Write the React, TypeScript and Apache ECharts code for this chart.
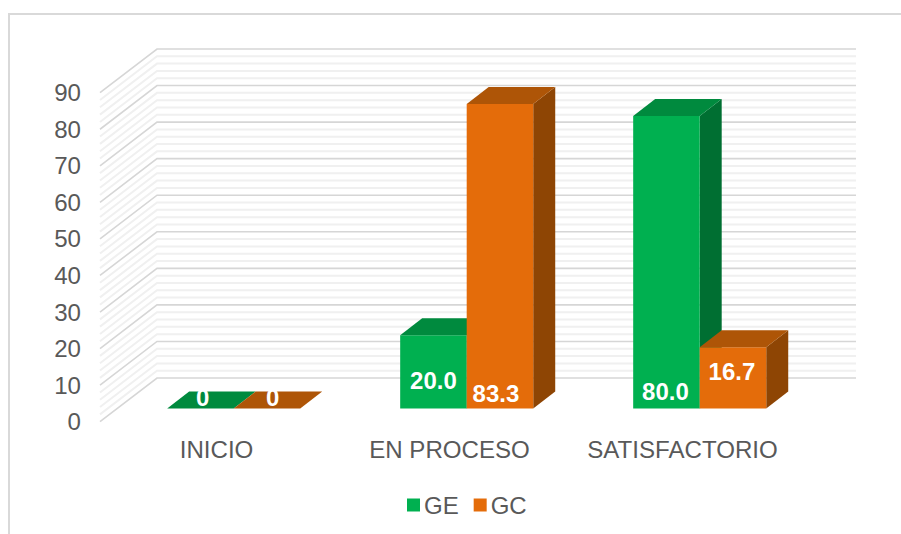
import React, { useEffect, useRef } from "react";
import * as echarts from "echarts";

const categories = ["INICIO", "EN PROCESO", "SATISFACTORIO"];
const geValues = [0, 20.0, 80.0];
const gcValues = [0, 83.3, 16.7];
const geLabels = ["0", "20.0", "80.0"];
const gcLabels = ["0", "83.3", "16.7"];
const yTicks = [0, 10, 20, 30, 40, 50, 60, 70, 80, 90];
const wallLevels = [
  0, 2, 4, 6, 8, 10, 12, 14, 16, 18, 20, 22, 24, 26, 28, 30, 32, 34, 36, 38, 40, 42, 44, 46,
  48, 50, 52, 54, 56, 58, 60, 62, 64, 66, 68, 70, 72, 74, 76, 78, 80, 82, 84, 86, 88, 90,
];

const FONT = '"Liberation Sans", Arial, sans-serif';
const TEXT = "#595959";
const WALL_DX = 57;
const WALL_DY = -43.7;
const BAR_SHIFT_X = 17.2;
const BAR_SHIFT_Y = -13.3;
const BAR_DX = 22;
const BAR_DY = -17;
const BAR_RATIO = 0.2855;

// hand-placed label nudges from the bar's front centre: [series][category] = [dx, y above base]
const labelNudge = [
  [[2.3, 11], [0, 28], [-1, 17]],
  [[5.8, 11], [-4, 15], [-1, 37]],
];

const wallItem = (params: any, api: any) => {
  const v = api.value(1);
  const p = api.coord([0, v]);
  const cs = params.coordSys;
  const major = v % 10 === 0;
  return {
    type: "polyline",
    silent: true,
    shape: {
      points: [
        [cs.x, p[1]],
        [cs.x + WALL_DX, p[1] + WALL_DY],
        [cs.x + cs.width + WALL_DX, p[1] + WALL_DY],
      ],
    },
    style: {
      fill: "none",
      stroke: major ? "#d6d6d6" : "#f0f0f0",
      lineWidth: major ? 1.6 : 2,
    },
  };
};

const barItem =
  (seriesIdx: number, front: string, top: string, side: string, labels: string[]) =>
  (params: any, api: any) => {
    const i = api.value(0);
    const val = api.value(1);
    const base = api.coord([i, 0]);
    const tip = api.coord([i, val]);
    const w = api.size([1, 0])[0] * BAR_RATIO;
    const x0 = base[0] + BAR_SHIFT_X + (seriesIdx === 0 ? -w : 0);
    const x1 = x0 + w;
    const yb = base[1] + BAR_SHIFT_Y;
    const yt = tip[1] + BAR_SHIFT_Y;
    const n = labelNudge[seriesIdx][i];
    const children: any[] = [];
    if (val > 0) {
      children.push({
        type: "polygon",
        shape: { points: [[x1, yb], [x1 + BAR_DX, yb + BAR_DY], [x1 + BAR_DX, yt + BAR_DY], [x1, yt]] },
        style: { fill: side },
      });
      children.push({
        type: "rect",
        shape: { x: x0, y: yt, width: w, height: yb - yt },
        style: { fill: front },
      });
    }
    children.push({
      type: "polygon",
      shape: { points: [[x0, yt], [x1, yt], [x1 + BAR_DX, yt + BAR_DY], [x0 + BAR_DX, yt + BAR_DY]] },
      style: { fill: top },
    });
    children.push({
      type: "text",
      style: {
        text: labels[i],
        x: x0 + w / 2 + n[0],
        y: yb - n[1],
        align: "center",
        verticalAlign: "middle",
        fill: "#ffffff",
        font: `bold 24px ${FONT}`,
      },
    });
    return { type: "group", children };
  };

export default function App() {
  const ref = useRef<HTMLDivElement>(null);
  useEffect(() => {
    const chart = echarts.init(ref.current!, undefined, { renderer: "svg" });
    chart.setOption({
      animation: false,
      backgroundColor: "#ffffff",
      textStyle: { fontFamily: FONT },
      grid: { left: 100, top: 92.7, width: 699, height: 329, containLabel: false },
      xAxis: {
        type: "category",
        data: categories,
        axisLine: { show: false },
        axisTick: { show: false },
        splitLine: { show: false },
        axisLabel: { interval: 0, color: TEXT, fontSize: 24.1, fontFamily: FONT, margin: 16 },
      },
      yAxis: {
        type: "value",
        min: yTicks[0],
        max: yTicks[yTicks.length - 1],
        interval: yTicks[1] - yTicks[0],
        axisLine: { show: false },
        axisTick: { show: false },
        splitLine: { show: false },
        axisLabel: { color: TEXT, fontSize: 24.1, fontFamily: FONT, margin: 19, padding: [4, 0, 0, 0] },
      },
      legend: {
        data: ["GE", "GC"],
        left: 407,
        top: 493,
        icon: "rect",
        itemWidth: 13,
        itemHeight: 13,
        itemGap: 15,
        padding: 0,
        selectedMode: false,
        textStyle: { color: TEXT, fontSize: 24, fontFamily: FONT, padding: [2, 0, 0, -1] },
      },
      graphic: [
        {
          type: "rect",
          z: -1,
          silent: true,
          shape: { x: 9, y: 14, width: 1200, height: 1000 },
          style: { fill: "none", stroke: "#d9d9d9", lineWidth: 2 },
        },
      ],
      series: [
        {
          type: "custom",
          name: "wall",
          z: 1,
          silent: true,
          renderItem: wallItem,
          data: wallLevels.map((v) => [0, v]),
        },
        {
          type: "custom",
          name: "GE",
          z: 2,
          silent: true,
          itemStyle: { color: "#00b050" },
          renderItem: barItem(0, "#00b050", "#008a3e", "#006f32", geLabels),
          data: geValues.map((v, i) => [i, v]),
        },
        {
          type: "custom",
          name: "GC",
          z: 3,
          silent: true,
          itemStyle: { color: "#e46c0a" },
          renderItem: barItem(1, "#e46c0a", "#ae5507", "#8e4504", gcLabels),
          data: gcValues.map((v, i) => [i, v]),
        },
      ],
    });
    return () => chart.dispose();
  }, []);
  return (
    <div
      ref={ref}
      style={{ position: "absolute", left: 0, top: 0, width: 901, height: 534, overflow: "hidden" }}
    />
  );
}
